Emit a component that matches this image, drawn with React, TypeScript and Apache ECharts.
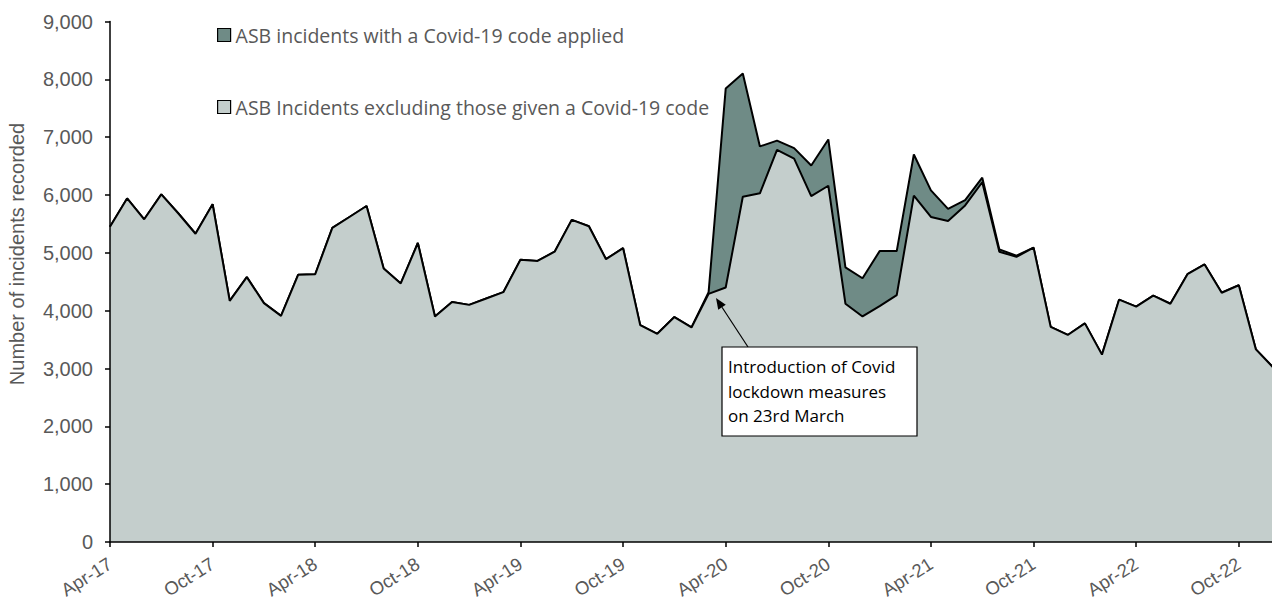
import React, { useEffect, useRef } from "react";
import * as echarts from "echarts";

const monthNames = ["Jan", "Feb", "Mar", "Apr", "May", "Jun", "Jul", "Aug", "Sep", "Oct", "Nov", "Dec"];
const startYear = 2017;
const startMonth = 3; // April
const monthCount = 69; // Apr-17 .. Dec-22

const categories: string[] = [];
for (let i = 0; i < monthCount; i++) {
  const m = (startMonth + i) % 12;
  const y = startYear + Math.floor((startMonth + i) / 12);
  categories.push(`${monthNames[m]}-${String(y).slice(2)}`);
}

// ASB incidents excluding those given a Covid-19 code
const excludingCovid = [
  5450, 5940, 5580, 6010, 5680, 5330, 5840, 4170, 4580, 4130, 3910, 4620,
  4630, 5430, 5620, 5810, 4730, 4470, 5170, 3900, 4150, 4100, 4210, 4320,
  4880, 4860, 5020, 5570, 5460, 4890, 5080, 3750, 3600, 3890, 3710, 4290,
  4400, 5970, 6030, 6780, 6630, 5980, 6160, 4120, 3900, 4080, 4270, 5990,
  5620, 5550, 5820, 6220, 5020, 4930, 5090, 3720, 3580, 3780, 3240, 4190,
  4070, 4260, 4120, 4630, 4800, 4310, 4440, 3330, 3020,
];

// ASB incidents with a Covid-19 code applied
const withCovid = [
  0, 0, 0, 0, 0, 0, 0, 0, 0, 0, 0, 0,
  0, 0, 0, 0, 0, 0, 0, 0, 0, 0, 0, 0,
  0, 0, 0, 0, 0, 0, 0, 0, 0, 0, 0, 30,
  3440, 2130, 810, 160, 180, 530, 800, 630, 660, 950, 760, 710,
  460, 210, 90, 80, 40, 20, 0, 0, 0, 0, 0, 0,
  0, 0, 0, 0, 0, 0, 0, 0, 0,
];

const yTicks = { min: 0, max: 9000, interval: 1000 };

const seriesNames = [
  "ASB incidents with a Covid-19 code applied",
  "ASB Incidents excluding those given a Covid-19 code",
];

const yAxisTitle = "Number of incidents recorded";
const annotationLines = ["Introduction of Covid", "lockdown measures", "on 23rd March"];

const lightFill = "#c4cecc";
const darkFill = "#6f8b86";
const labelGrey = "#595959";

export default function App() {
  const ref = useRef<HTMLDivElement>(null);

  useEffect(() => {
    if (!ref.current) return;
    const chart = echarts.init(ref.current, undefined, { renderer: "svg" });

    const tip = [716, 298];
    const from = [748, 347];
    const dx = tip[0] - from[0];
    const dy = tip[1] - from[1];
    const len = Math.sqrt(dx * dx + dy * dy);
    const ux = dx / len;
    const uy = dy / len;
    const headLen = 11;
    const headHalf = 4.5;
    const bx = tip[0] - ux * headLen;
    const by = tip[1] - uy * headLen;
    const px = -uy * headHalf;
    const py = ux * headHalf;

    chart.setOption({
      animation: false,
      backgroundColor: "#ffffff",
      grid: {
        left: 110,
        right: -1,
        top: 21.5,
        bottom: 57,
        containLabel: false,
        outerBoundsMode: "none",
      },
      legend: {
        left: 217,
        top: 25,
        padding: 0,
        orient: "vertical",
        itemWidth: 13,
        itemHeight: 13,
        itemGap: 52,
        icon: "rect",
        data: [seriesNames[0], seriesNames[1]],
        itemStyle: { borderColor: "#000", borderWidth: 1.2 },
        textStyle: {
          color: labelGrey,
          fontFamily: "Open Sans",
          fontSize: 19.5,
        },
        selectedMode: false,
      },
      xAxis: {
        type: "category",
        data: categories,
        boundaryGap: false,
        z: 10,
        axisLine: { show: true, lineStyle: { color: "#000", width: 1.5 } },
        axisTick: {
          show: true,
          interval: 5,
          length: 5,
          inside: false,
          lineStyle: { color: "#000", width: 1.5 },
        },
        axisLabel: {
          interval: 5,
          rotate: 32,
          margin: 20,
          color: labelGrey,
          fontFamily: "Liberation Sans",
          fontSize: 18.5,
        },
        splitLine: { show: false },
      },
      yAxis: {
        type: "value",
        min: yTicks.min,
        max: yTicks.max,
        interval: yTicks.interval,
        z: 10,
        axisLine: { show: true, lineStyle: { color: "#000", width: 1.5 } },
        axisTick: { show: true, length: 5, lineStyle: { color: "#000", width: 1.5 } },
        axisLabel: {
          margin: 17,
          color: labelGrey,
          fontFamily: "Liberation Sans",
          fontSize: 20,
          formatter: (v: number) => v.toLocaleString("en-GB"),
        },
        splitLine: { show: false },
      },
      series: [
        {
          name: seriesNames[1],
          type: "line",
          stack: "total",
          data: excludingCovid,
          symbol: "none",
          z: 4,
          lineStyle: { color: "#000", width: 2 },
          itemStyle: { color: lightFill },
          areaStyle: { color: lightFill, opacity: 1 },
        },
        {
          name: seriesNames[0],
          type: "line",
          stack: "total",
          data: withCovid,
          symbol: "none",
          z: 3,
          lineStyle: { color: "#000", width: 2 },
          itemStyle: { color: darkFill },
          areaStyle: { color: darkFill, opacity: 1 },
        },
      ],
      graphic: [
        {
          type: "text",
          x: 17,
          y: 254,
          rotation: Math.PI / 2,
          style: {
            text: yAxisTitle,
            fill: labelGrey,
            fontFamily: "Liberation Sans",
            fontSize: 20,
            align: "center",
            verticalAlign: "middle",
          },
        },
        {
          type: "line",
          z: 100,
          shape: { x1: from[0], y1: from[1], x2: bx, y2: by },
          style: { stroke: "#000", lineWidth: 1.2 },
        },
        {
          type: "polygon",
          z: 100,
          shape: {
            points: [
              [tip[0], tip[1]],
              [bx + px, by + py],
              [bx - px, by - py],
            ],
          },
          style: { fill: "#000" },
        },
        {
          type: "rect",
          z: 100,
          shape: { x: 722, y: 347, width: 195, height: 89 },
          style: { fill: "#ffffff", stroke: "#000", lineWidth: 1.2 },
        },
        {
          type: "text",
          z: 101,
          x: 728,
          y: 354,
          style: {
            text: annotationLines.join("\n"),
            fill: "#000",
            fontFamily: "Open Sans",
            fontSize: 17,
            lineHeight: 24.7,
          },
        },
      ],
    });

    return () => chart.dispose();
  }, []);

  return (
    <div
      ref={ref}
      style={{ position: "absolute", left: 0, top: 0, width: 1272, height: 599 }}
    />
  );
}
